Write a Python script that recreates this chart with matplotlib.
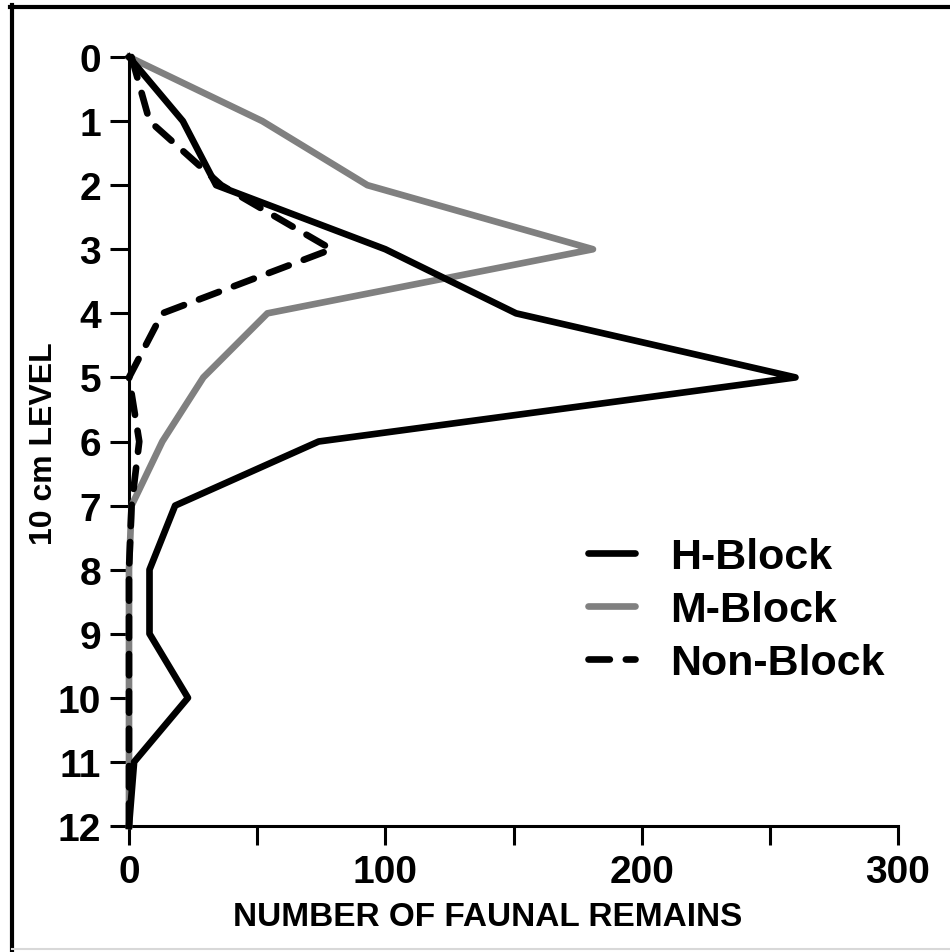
import matplotlib
matplotlib.use("Agg")
import matplotlib.pyplot as plt
from matplotlib.lines import Line2D

plt.rcParams['font.family'] = ['Liberation Sans', 'DejaVu Sans']
plt.rcParams['font.weight'] = 'bold'

levels = [0, 1, 2, 3, 4, 5, 6, 7, 8, 9, 10, 11, 12]
h_block = [0, 21, 34, 100, 151, 260, 74, 18, 8, 8, 23, 2, 0]
m_block = [0, 52, 93, 181, 54, 29, 13, 1, 0, 0, 0, 0, 0]
non_block = [1, 8, 36, 79, 13, 0, 4, 1, 0, 0, 0, 0, 0]
series_names = ["H-Block", "M-Block", "Non-Block"]
x_ticks = [0, 50, 100, 150, 200, 250, 300]
x_tick_labels = ["0", "", "100", "", "200", "", "300"]

W, H = 950, 953
fig = plt.figure(figsize=(W / 100, H / 100), dpi=100)
ax = fig.add_axes([129 / W, 1 - 827 / H, 769 / W, 769 / H])

lw = 4.8
dash = (0, (3.2, 2.4))
ax.plot(m_block, levels, color='#808080', lw=lw, solid_joinstyle='round',
        clip_on=False, label=series_names[1], zorder=3)
ax.plot(h_block, levels, color='black', lw=lw, solid_joinstyle='round',
        clip_on=False, label=series_names[0], zorder=4)
ax.plot(non_block, levels, color='black', lw=lw, linestyle=dash,
        dash_capstyle='round', dash_joinstyle='round', clip_on=False,
        label=series_names[2], zorder=5)

ax.set_xlim(0, 300)
ax.set_ylim(12, 0)
ax.set_xticks(x_ticks)
ax.set_xticklabels(x_tick_labels)
ax.set_yticks(levels)
ax.set_yticklabels([str(v) for v in levels])

for s in ['top', 'right']:
    ax.spines[s].set_visible(False)
for s in ['left', 'bottom']:
    ax.spines[s].set_linewidth(2.2)
    ax.spines[s].set_zorder(2)

ax.tick_params(axis='x', direction='out', length=14, width=2.2, labelsize=28, pad=6)
ax.tick_params(axis='y', direction='out', length=14, width=2.2, labelsize=28, pad=6)
for lab in ax.get_xticklabels() + ax.get_yticklabels():
    lab.set_fontweight('bold')

fig.text(488 / W, 1 - 918 / H, "NUMBER OF FAUNAL REMAINS", fontsize=24,
         fontweight='bold', ha='center', va='center')
fig.text(44 / W, 1 - 444 / H, "10 cm LEVEL", rotation=90, fontsize=23,
         fontweight='bold', ha='center', va='center')

handles = [Line2D([], [], color='black', lw=lw, solid_capstyle='round'),
           Line2D([], [], color='#808080', lw=lw, solid_capstyle='round'),
           Line2D([], [], color='black', lw=lw, linestyle=dash,
                  dash_capstyle='round')]
leg = ax.legend(handles, series_names, loc='center left',
                bbox_to_anchor=(0.597, 0.281), frameon=False,
                prop={'size': 31, 'weight': 'bold'}, handlelength=1.1,
                handletextpad=0.8, labelspacing=0.3, borderpad=0,
                borderaxespad=0)

# figure border (top and left black, bottom light grey)
fig.add_artist(Line2D([10 / W, 1], [1 - 8 / H, 1 - 8 / H], color='black', lw=3,
                      transform=fig.transFigure))
fig.add_artist(Line2D([12 / W, 12 / W], [0, 1 - 6 / H], color='black', lw=3,
                      transform=fig.transFigure))
fig.add_artist(Line2D([12 / W, 1], [1 - 950 / H, 1 - 950 / H], color='#d8d8d8', lw=1.5,
                      transform=fig.transFigure))

fig.savefig("out.png", dpi=100)
